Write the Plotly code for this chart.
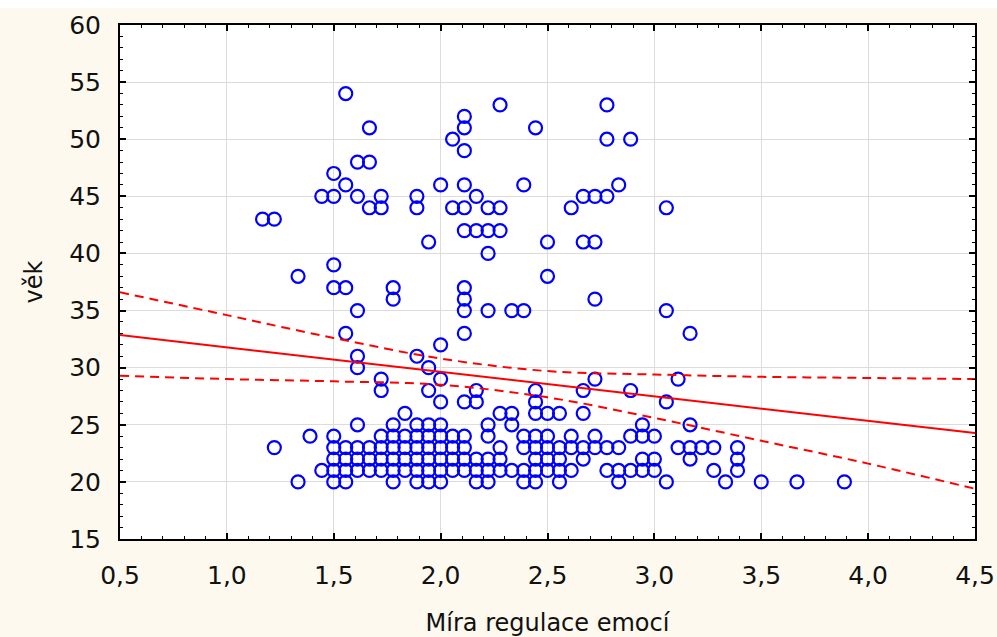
import plotly.graph_objects as go

# x levels (Míra regulace emocí) and ages (věk) observed at each level
mira_levels = [1.167, 1.222, 1.333, 1.389, 1.444, 1.500, 1.556, 1.611, 1.667, 1.722,
               1.778, 1.833, 1.889, 1.944, 2.000, 2.056, 2.111, 2.167, 2.222, 2.278,
               2.333, 2.389, 2.444, 2.500, 2.556, 2.611, 2.667, 2.722, 2.778, 2.833,
               2.889, 2.944, 3.000, 3.056, 3.111, 3.167, 3.222, 3.278, 3.333, 3.389,
               3.500, 3.667, 3.889]
vek_by_level = [
    [43],
    [43, 23],
    [38, 20],
    [24],
    [45, 21],
    [47, 45, 39, 37, 24, 23, 22, 21, 20],
    [54, 46, 37, 33, 23, 22, 21, 20],
    [48, 45, 35, 31, 30, 25, 23, 22, 21],
    [51, 48, 44, 23, 22, 21],
    [45, 44, 29, 28, 24, 23, 22, 21],
    [37, 36, 25, 24, 23, 22, 21, 20],
    [26, 24, 23, 22, 21],
    [45, 44, 31, 25, 24, 23, 22, 21, 20],
    [41, 30, 28, 25, 24, 23, 22, 21, 20],
    [46, 32, 29, 27, 25, 24, 23, 22, 21, 20],
    [50, 44, 24, 23, 22, 21],
    [52, 51, 49, 46, 44, 42, 37, 36, 35, 33, 27, 24, 23, 22, 21],
    [45, 42, 28, 27, 22, 21, 20],
    [44, 42, 40, 35, 25, 24, 22, 21, 20],
    [53, 44, 42, 26, 23, 22, 21],
    [35, 26, 25, 21],
    [46, 35, 24, 23, 21, 20],
    [51, 28, 27, 26, 24, 23, 22, 21, 20],
    [41, 38, 26, 24, 23, 22, 21],
    [26, 23, 22, 21, 20],
    [44, 24, 23, 21],
    [45, 41, 28, 26, 23, 22],
    [45, 41, 36, 29, 24, 23],
    [53, 50, 45, 23, 21],
    [46, 23, 21, 20],
    [50, 28, 24, 21],
    [25, 24, 22, 21],
    [24, 22, 21],
    [44, 35, 27, 20],
    [29, 23],
    [33, 25, 23, 22],
    [23],
    [23, 21],
    [20],
    [23, 22, 21],
    [20],
    [20],
    [20],
]

# regression line and 95% confidence band
fit_x = [0.5, 1.0, 1.5, 2.0, 2.5, 3.0, 3.5, 4.0, 4.5]
fit_y = [32.85, 31.78, 30.71, 29.64, 28.57, 27.50, 26.43, 25.36, 24.27]
band_upper = [36.6, 34.6, 32.6, 30.8, 29.7, 29.4, 29.2, 29.1, 29.0]
band_lower = [29.3, 29.0, 28.8, 28.5, 27.4, 25.6, 23.6, 21.6, 19.4]

x_ticks = [0.5, 1.0, 1.5, 2.0, 2.5, 3.0, 3.5, 4.0, 4.5]
y_ticks = [15, 20, 25, 30, 35, 40, 45, 50, 55, 60]

xs, ys = [], []
for lv, ages in zip(mira_levels, vek_by_level):
    for a in ages:
        xs.append(lv)
        ys.append(a)

fig = go.Figure()
fig.add_trace(go.Scatter(x=xs, y=ys, mode="markers",
                         marker=dict(symbol="circle-open", size=13, color="#0000FF",
                                     line=dict(width=2.2, color="#0000FF")),
                         hoverinfo="x+y"))
fig.add_trace(go.Scatter(x=fit_x, y=band_upper, mode="lines",
                         line=dict(color="#FF0000", width=2, dash="9px,6px", shape="spline")))
fig.add_trace(go.Scatter(x=fit_x, y=band_lower, mode="lines",
                         line=dict(color="#FF0000", width=2, dash="9px,6px", shape="spline")))
fig.add_trace(go.Scatter(x=fit_x, y=fit_y, mode="lines",
                         line=dict(color="#FF0000", width=2)))

font_family = "DejaVu Sans, Arial, sans-serif"
axis_common = dict(
    showline=True, linecolor="black", linewidth=2, mirror="ticks",
    ticks="inside", ticklen=6, tickwidth=1.5, tickcolor="black",
    showgrid=True, gridcolor="#DCDCDC", gridwidth=1, zeroline=False,
    automargin=False,
    tickfont=dict(family=font_family, size=25, color="#111111"),
)

plot_h = 637 - 25 - 98
plot_w = 997 - 120 - 22

fig.update_layout(
    width=997, height=637,
    margin=dict(l=120, r=22, t=25, b=98),
    paper_bgcolor="#FDF9EE", plot_bgcolor="white",
    showlegend=False,
    separators=", ",
    font=dict(family=font_family, color="#111111"),
    shapes=[dict(type="rect", xref="paper", yref="paper", layer="below",
                 x0=-120 / plot_w, x1=1 + 22 / plot_w,
                 y0=1 + 17 / plot_h, y1=1 + 25 / plot_h,
                 fillcolor="white", line=dict(width=0))],
    xaxis=dict(axis_common, range=[0.5, 4.5], tickvals=x_ticks, tickformat=".1f",
               ticklabelstandoff=13,
               minor=dict(dtick=0.1, tick0=0.5, ticks="inside", ticklen=3,
                          tickcolor="black", tickwidth=1, showgrid=False),
               title=dict(text="Míra regulace emocí", standoff=26,
                          font=dict(family=font_family, size=24, color="#111111"))),
    yaxis=dict(axis_common, range=[15, 60], tickvals=y_ticks,
               ticklabelstandoff=12,
               minor=dict(dtick=1, tick0=15, ticks="inside", ticklen=3,
                          tickcolor="black", tickwidth=1, showgrid=False),
               title=dict(text="věk", standoff=20,
                          font=dict(family=font_family, size=24, color="#111111"))),
)

fig.write_html("out.html")
